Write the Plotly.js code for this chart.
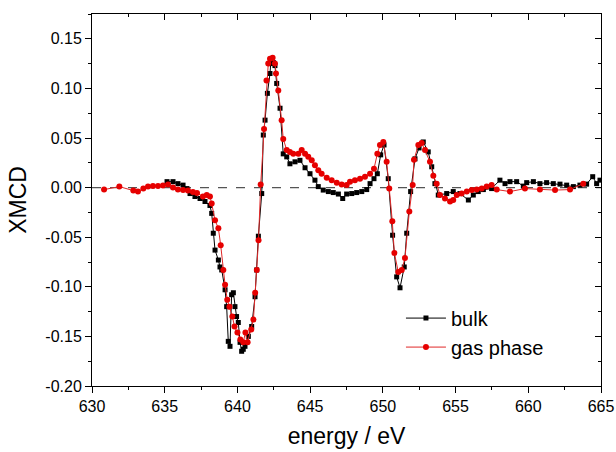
<!DOCTYPE html>
<html>
<head>
<meta charset="utf-8">
<script src="https://cdn.plot.ly/plotly-3.0.1.min.js"></script>
<style>html,body{margin:0;padding:0;background:#fff;}#chart{width:616px;height:452px;}</style>
</head>
<body>
<div id="chart"></div>
<script>
// ---- data ----
const bulkEnergy = [
 635.16, 635.57, 635.91, 636.26, 636.53, 636.74, 637.08, 637.43, 637.77, 638.11,
 638.23, 638.34, 638.46, 638.69, 638.8, 638.92, 639.15, 639.26, 639.37, 639.49,
 639.6, 639.72, 639.83, 639.94, 640.06, 640.18, 640.29, 640.4, 640.52, 640.75,
 640.98, 641.21, 641.32, 641.44, 641.67, 641.78, 641.9, 642.06, 642.24, 642.29,
 642.47, 642.58, 642.7, 642.93, 643.15, 643.39, 643.61, 643.96, 644.3, 644.65,
 644.99, 645.33, 645.56, 645.9, 646.25, 646.59, 646.94, 647.24, 647.51, 647.86,
 648.2, 648.55, 648.89, 649.12, 649.39, 649.62, 649.85, 650.08, 650.37, 650.67,
 650.95, 651.18, 651.47, 651.64, 651.91, 652.21, 652.49, 652.78, 653.12, 653.36,
 653.58, 653.81, 654.39, 654.84, 655.3, 655.88, 656.22, 656.56, 656.91, 657.48,
 658.05, 658.4, 658.74, 659.2, 659.66, 659.89, 660.35, 660.8, 661.26, 661.72,
 662.18, 662.64, 663.1, 663.55, 664.01, 664.43, 664.7, 664.93
];
const bulkXMCD = [
 0.006, 0.006, 0.004, 0.0025, -0.001, -0.006, -0.009, -0.011, -0.014, -0.018,
 -0.026, -0.046, -0.063, -0.073, -0.080, -0.083, -0.103, -0.120, -0.155, -0.160,
 -0.108, -0.106, -0.120, -0.130, -0.136, -0.156, -0.165, -0.163, -0.160, -0.150,
 -0.140, -0.110, -0.083, -0.049, -0.006, 0.053, 0.068, 0.095, 0.115, 0.125,
 0.126, 0.123, 0.105, 0.080, 0.034, 0.031, 0.024, 0.026, 0.0275, 0.020,
 0.014, 0.0075, 0.001, -0.0025, -0.004, -0.005, -0.0065, -0.011, -0.0065, -0.006,
 -0.005, -0.004, -0.002, 0.004, 0.009, 0.014, 0.033, 0.043, 0.009, -0.048,
 -0.090, -0.101, -0.080, -0.046, -0.004, 0.029, 0.040, 0.046, 0.036, 0.021,
 0.004, -0.0075, -0.006, -0.004, -0.006, -0.0125, -0.0075, -0.004, -0.002, -0.001,
 0.0075, 0.004, 0.006, 0.006, 0.0015, 0.005, 0.006, 0.004, 0.005, 0.004,
 0.0035, 0.0025, 0.001, 0.0025, 0.0035, 0.011, 0.004, 0.0075
];
const gasEnergy = [
 630.83, 631.88, 632.84, 633.16, 633.53, 633.85, 634.19, 634.54, 634.88, 635.23,
 635.57, 635.91, 636.26, 636.6, 636.94, 637.22, 637.63, 637.89, 638.11, 638.23,
 638.46, 638.69, 638.85, 639.03, 639.15, 639.3, 639.45, 639.65, 639.8, 640.0,
 640.2, 640.4, 640.55, 640.7, 640.95, 641.1, 641.22, 641.33, 641.45, 641.6,
 641.83, 642.0, 642.12, 642.24, 642.42, 642.58, 642.65, 642.81, 643.04, 643.15,
 643.39, 643.61, 643.84, 644.19, 644.42, 644.65, 644.87, 645.11, 645.33, 645.56,
 645.79, 646.14, 646.48, 646.83, 647.17, 647.51, 647.74, 648.08, 648.43, 648.77,
 649.12, 649.39, 649.62, 649.8, 650.03, 650.26, 650.44, 650.65, 650.79, 651.06,
 651.3, 651.52, 651.82, 652.05, 652.14, 652.44, 652.67, 652.9, 653.24, 653.47,
 653.7, 653.93, 654.27, 654.62, 654.84, 655.08, 655.42, 655.77, 656.11, 656.45,
 656.8, 657.14, 657.48, 657.83, 658.74, 659.77, 660.8, 661.84, 662.87, 663.78
];
const gasXMCD = [
 -0.002, 0.001, -0.003, -0.004, -0.001, 0.001, 0.0015, 0.0015, 0.002, 0.003,
 0.000, -0.002, -0.0025, -0.003, -0.0045, -0.0055, -0.009, -0.0075, -0.009, -0.016,
 -0.033, -0.041, -0.058, -0.083, -0.098, -0.113, -0.120, -0.130, -0.140, -0.146,
 -0.153, -0.156, -0.146, -0.156, -0.143, -0.133, -0.106, -0.083, -0.053, 0.003,
 0.059, 0.108, 0.125, 0.130, 0.131, 0.125, 0.115, 0.098, 0.068, 0.049,
 0.038, 0.036, 0.034, 0.034, 0.038, 0.034, 0.031, 0.0275, 0.0225, 0.0175,
 0.014, 0.010, 0.0075, 0.005, 0.003, 0.0025, 0.006, 0.0075, 0.009, 0.011,
 0.014, 0.019, 0.034, 0.043, 0.046, 0.026, -0.001, -0.034, -0.066, -0.085,
 -0.083, -0.071, -0.024, 0.0025, 0.028, 0.043, 0.045, 0.038, 0.026, 0.012,
 0.004, -0.0075, -0.011, -0.014, -0.0125, -0.0075, -0.006, -0.004, -0.0025, -0.002,
 -0.001, 0.001, 0.0025, -0.002, -0.004, -0.001, -0.002, -0.0025, -0.002, 0.004
];
const seriesNames = ["bulk", "gas phase"];
const xTickVals = [630, 635, 640, 645, 650, 655, 660, 665];
const yTickVals = [-0.20, -0.15, -0.10, -0.05, 0.00, 0.05, 0.10, 0.15];
const yTickLabels = ["-0.20", "-0.15", "-0.10", "-0.05", "0.00", "0.05", "0.10", "0.15"];
const xRange = [630, 665];
const yRange = [-0.20, 0.175];

const FONT = "Arial, 'Liberation Sans', sans-serif";

const traces = [
  {
    x: bulkEnergy, y: bulkXMCD, name: seriesNames[0], type: "scatter", mode: "lines+markers",
    line: {color: "#000000", width: 1},
    marker: {symbol: "square", size: 5, color: "#000000"}
  },
  {
    x: gasEnergy, y: gasXMCD, name: seriesNames[1], type: "scatter", mode: "lines+markers",
    line: {color: "rgb(225,40,40)", width: 1},
    marker: {symbol: "circle", size: 6, color: "rgb(230,0,0)"}
  },
  {x: [], y: [], xaxis: "x2", yaxis: "y2", showlegend: false, hoverinfo: "skip", type: "scatter", mode: "markers"}
];

const baseAxis = {
  showgrid: false, zeroline: false, showline: true, linecolor: "#000", linewidth: 1,
  tickcolor: "#000", tickwidth: 1, ticklen: 6
};

const layout = {
  width: 616, height: 452,
  margin: {l: 92, r: 15, t: 14, b: 66},
  paper_bgcolor: "#fff", plot_bgcolor: "#fff",
  font: {family: FONT, color: "#000"},
  showlegend: true,
  legend: {
    x: 0.607, y: 0.235, xanchor: "left", yanchor: "top",
    bgcolor: "rgba(0,0,0,0)", font: {size: 20, family: FONT}, itemwidth: 40
  },
  xaxis: Object.assign({}, baseAxis, {
    range: xRange, tickmode: "array", tickvals: xTickVals, ticks: "outside",
    tickfont: {size: 16, family: FONT},
    minor: {tickmode: "linear", tick0: 630, dtick: 2.5, ticks: "outside", ticklen: 3, tickcolor: "#000", tickwidth: 1},
    title: {text: "energy / eV", font: {size: 23, family: FONT}, standoff: 13}
  }),
  yaxis: Object.assign({}, baseAxis, {
    range: yRange, tickmode: "array", tickvals: yTickVals, ticktext: yTickLabels, ticks: "outside",
    tickfont: {size: 16, family: FONT},
    minor: {tickmode: "linear", tick0: 0, dtick: 0.025, ticks: "outside", ticklen: 3, tickcolor: "#000", tickwidth: 1},
    title: {text: "XMCD", font: {size: 23, family: FONT}, standoff: 12}
  }),
  xaxis2: Object.assign({}, baseAxis, {
    overlaying: "x", side: "top", anchor: "y", range: xRange, tickmode: "array", tickvals: xTickVals,
    ticks: "inside", showticklabels: false,
    minor: {tickmode: "linear", tick0: 630, dtick: 2.5, ticks: "inside", ticklen: 3, tickcolor: "#000", tickwidth: 1}
  }),
  yaxis2: Object.assign({}, baseAxis, {
    overlaying: "y", side: "right", anchor: "x", range: yRange, tickmode: "array", tickvals: yTickVals,
    ticks: "inside", showticklabels: false,
    minor: {tickmode: "linear", tick0: 0, dtick: 0.025, ticks: "inside", ticklen: 3, tickcolor: "#000", tickwidth: 1}
  }),
  shapes: [{
    type: "line", xref: "paper", x0: 0, x1: 1, yref: "y", y0: 0, y1: 0,
    line: {color: "#555", width: 1.2, dash: "dash"}, layer: "below"
  }]
};

Plotly.newPlot("chart", traces, layout, {staticPlot: true, displayModeBar: false});
</script>
</body>
</html>
